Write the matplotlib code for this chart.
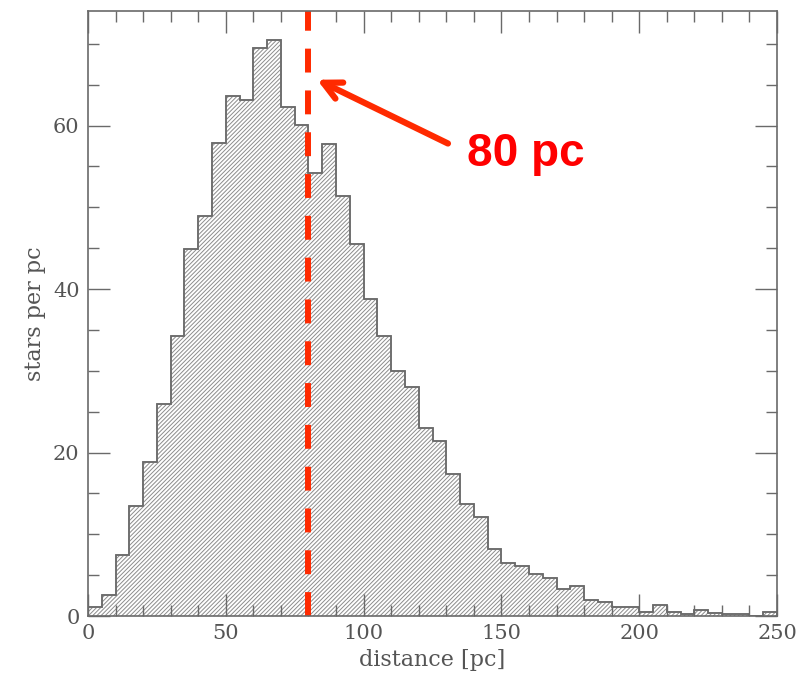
import numpy as np
import matplotlib.pyplot as plt
from matplotlib.ticker import MultipleLocator

# star counts per 5 pc distance bin
bin_edges = np.arange(0, 255, 5)
stars_per_pc = [1.1, 2.6, 7.5, 13.5, 18.8, 25.9, 34.3, 44.9, 48.9, 57.9,
                63.6, 63.1, 69.5, 70.5, 62.3, 60.1, 54.2, 57.7, 51.4, 45.5,
                38.8, 34.3, 30.0, 28.0, 23.0, 21.4, 17.4, 13.7, 12.1, 8.2,
                6.5, 6.1, 5.1, 4.7, 3.3, 3.7, 1.9, 1.7, 1.1, 1.1,
                0.5, 1.3, 0.5, 0.2, 0.7, 0.4, 0.3, 0.2, 0.0, 0.5]
cut_distance = 80
cut_label = "80 pc"

grey = "#6a6a6a"
red = "#ff2a00"

plt.rcParams['hatch.linewidth'] = 0.7
plt.rcParams['hatch.color'] = "#8c8c8c"

fig = plt.figure(figsize=(8.12, 6.78), dpi=100)
ax = fig.add_axes([0.1084, 0.0914, 0.8485, 0.8923])

ax.stairs(stars_per_pc, bin_edges, fill=True, facecolor="none",
          edgecolor="#8c8c8c", hatch="////////", linewidth=1.2)
ax.stairs(stars_per_pc, bin_edges, color=grey, linewidth=1.2)

ax.axvline(cut_distance, color=red, linewidth=4.3, dashes=(4, 3))
ax.annotate("", xy=(83.1, 65.6), xytext=(130.6, 57.8),
            arrowprops=dict(arrowstyle="->", color=red, lw=4.5,
                            mutation_scale=32, shrinkA=0, shrinkB=0))
ax.text(159, 56.5, cut_label, color="#ff0000", fontsize=33,
        fontweight="bold", family="Liberation Sans", ha="center", va="center")

ax.set_xlim(0, 250)
ax.set_ylim(0, 74)
ax.xaxis.set_major_locator(MultipleLocator(50))
ax.xaxis.set_minor_locator(MultipleLocator(10))
ax.yaxis.set_major_locator(MultipleLocator(20))
ax.yaxis.set_minor_locator(MultipleLocator(5))
ax.tick_params(which="both", direction="in", top=True, right=True,
               color=grey, width=1.0)
ax.tick_params(which="major", length=16, labelsize=15, labelcolor="#555555", pad=6)
ax.tick_params(which="minor", length=8)
for lbl in ax.get_xticklabels() + ax.get_yticklabels():
    lbl.set_family("DejaVu Serif")
for s in ax.spines.values():
    s.set_color(grey)
    s.set_linewidth(1.2)

ax.set_xlabel("distance [pc]", fontsize=16, color="#555555",
              family="DejaVu Serif", labelpad=4)
ax.set_ylabel("stars per pc", fontsize=16, color="#555555",
              family="DejaVu Serif", labelpad=5)

fig.savefig("out.png", dpi=100)
